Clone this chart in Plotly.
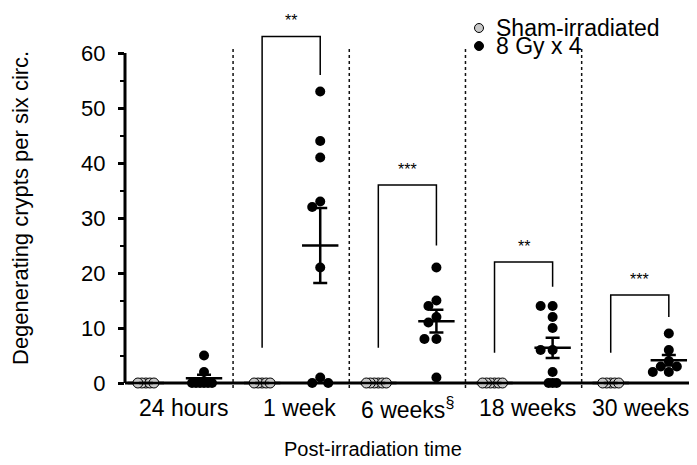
import numpy as np
import plotly.graph_objects as go

# ---------------- data ----------------
categories = ["24 hours", "1 week", "6 weeks<sup>§</sup>", "18 weeks", "30 weeks"]

sham_24h = [0, 0, 0, 0, 0]
sham_1wk = [0, 0, 0, 0, 0]
sham_6wk = [0, 0, 0, 0, 0, 0]
sham_18wk = [0, 0, 0, 0, 0, 0]
sham_30wk = [0, 0, 0, 0, 0]

irr_24h = [5, 2, 0, 0, 0, 0, 0, 0]
irr_1wk = [53, 44, 41, 33, 32, 21, 1, 0, 0]
irr_6wk = [21, 15, 14, 12, 11, 8, 8, 1]
irr_18wk = [14, 14, 12, 10, 6, 6, 2, 0, 0, 0]
irr_30wk = [9, 6, 4, 3, 3, 2, 2]

sig_labels = ["", "**", "***", "**", "***"]
bracket_top = [None, 63, 36, 22, 16]
bracket_left_end = [None, 6.4, 6.4, 5.5, 5.5]
bracket_right_end = [None, 56, 25, 17.5, 12]

y_ticks = [0, 10, 20, 30, 40, 50, 60]
y_minor = [5, 15, 25, 35, 45, 55]

legend_names = ["Sham-irradiated", "8 Gy x 4"]

sham_groups = [sham_24h, sham_1wk, sham_6wk, sham_18wk, sham_30wk]
irr_groups = [irr_24h, irr_1wk, irr_6wk, irr_18wk, irr_30wk]

# ---------------- layout geometry ----------------
# the page has an 8px body margin, so the figure is drawn 8px in from the corner
PAGE_OFF = 8
W, H = 697 - PAGE_OFF, 465 - PAGE_OFF
AX_LEFT_PAGE, AX_RIGHT_PAGE = 125, 695
ZERO_PAGE = 383
PLOT_BOTTOM_PAGE = 391
L = AX_LEFT_PAGE - PAGE_OFF
R = W - (AX_RIGHT_PAGE - PAGE_OFF)
T = 0
B = H - (PLOT_BOTTOM_PAGE - PAGE_OFF)
PW, PH = W - L - R, H - T - B
PX_PER_Y = 5.5
PX_PER_X = 116.2
y_range = [-(PLOT_BOTTOM_PAGE - ZERO_PAGE) / PX_PER_Y, (ZERO_PAGE - PAGE_OFF) / PX_PER_Y]
x_range = [-0.43, -0.43 + PW / PX_PER_X]
FONT = "Liberation Sans, Arial, sans-serif"
GREY = "#c8c8c8"
OFF = 0.25
MS = 10


def paper_x(px):
    return (px - PAGE_OFF - L) / PW


def paper_y(py):
    return (H - B - (py - PAGE_OFF)) / PH


def swarm(vals, diam=MS, step=4.0):
    """Greedy beeswarm offsets (in x data units)."""
    n = len(vals)
    order = sorted(range(n), key=lambda i: -vals[i])
    placed = []
    offs = [0.0] * n
    for i in order:
        y = vals[i] * PX_PER_Y
        k = 0
        while True:
            m = (k + 1) // 2
            c = (-1 if k % 2 == 1 else 1) * m * step
            ok = True
            for (pdx, py) in placed:
                dy = abs(y - py)
                dx = abs(c - pdx)
                if dy < 0.5:
                    sep = 4.0 if vals[i] == 0 else 0.95 * diam
                    if dx < sep:
                        ok = False
                        break
                elif dx * dx + dy * dy < (0.9 * diam) ** 2:
                    ok = False
                    break
            if ok:
                break
            k += 1
        placed.append((c, y))
        offs[i] = c / PX_PER_X
    return offs


fig = go.Figure()
shapes = []

# dashed dividers
for i in range(len(categories) - 1):
    shapes.append(dict(type="line", xref="x", yref="y", x0=i + 0.5, x1=i + 0.5,
                       y0=-0.9, y1=61, layer="below",
                       line=dict(color="#111111", width=1.5, dash="3px,3px")))
# axis lines
shapes.append(dict(type="line", xref="paper", yref="y", x0=0, x1=1, y0=0, y1=0,
                   layer="below", line=dict(color="black", width=3)))
shapes.append(dict(type="line", xref="paper", yref="y", x0=0, x1=0, y0=0, y1=60,
                   layer="below", line=dict(color="black", width=3)))

# points
for gi in range(len(categories)):
    s = sham_groups[gi]
    so = swarm(s)
    fig.add_trace(go.Scatter(
        x=[gi - OFF + o for o in so], y=s, mode="markers", cliponaxis=False,
        marker=dict(size=MS, color=GREY, line=dict(color="black", width=1)),
        showlegend=False, hoverinfo="y"))
    r = irr_groups[gi]
    ro = swarm(r)
    fig.add_trace(go.Scatter(
        x=[gi + OFF + o for o in ro], y=r, mode="markers", cliponaxis=False,
        marker=dict(size=MS, color="black", line=dict(color="black", width=0)),
        showlegend=False, hoverinfo="y"))

# mean +/- SEM
mx, my, me = [], [], []
for gi in range(len(categories)):
    for off, grp in ((-OFF, sham_groups[gi]), (OFF, irr_groups[gi])):
        a = np.asarray(grp, dtype=float)
        mx.append(gi + off)
        my.append(a.mean())
        me.append(a.std(ddof=1) / np.sqrt(len(a)))
fig.add_trace(go.Scatter(
    x=mx, y=my, mode="markers", cliponaxis=False,
    marker=dict(symbol="line-ew", size=26, color="black",
                line=dict(color="black", width=2.5)),
    error_y=dict(type="data", array=me, visible=True, color="black",
                 thickness=2.5, width=7),
    showlegend=False, hoverinfo="y"))

# significance brackets
for gi in range(len(categories)):
    if bracket_top[gi] is None:
        continue
    fig.add_trace(go.Scatter(
        x=[gi - OFF, gi - OFF, gi + OFF, gi + OFF],
        y=[bracket_left_end[gi], bracket_top[gi], bracket_top[gi], bracket_right_end[gi]],
        mode="lines", line=dict(color="black", width=1.5),
        showlegend=False, hoverinfo="skip"))

annotations = []
for gi in range(len(categories)):
    if sig_labels[gi]:
        annotations.append(dict(x=gi, y=bracket_top[gi], xref="x", yref="y",
                                text=sig_labels[gi], showarrow=False,
                                xanchor="center", yanchor="middle", yshift=16,
                                font=dict(family=FONT, size=16, color="black")))

# category labels
cat_center_px = [184, 299, 407, 527, 640]
for gi, c in enumerate(categories):
    annotations.append(dict(x=paper_x(cat_center_px[gi]), y=paper_y(408),
                            xref="paper", yref="paper",
                            text=c, showarrow=False,
                            xanchor="center", yanchor="middle",
                            font=dict(family=FONT, size=23, color="black")))

# axis titles
annotations.append(dict(x=paper_x(373), y=paper_y(449), xref="paper", yref="paper",
                        text="Post-irradiation time", showarrow=False,
                        xanchor="center", yanchor="middle",
                        font=dict(family=FONT, size=20, color="black")))
annotations.append(dict(x=paper_x(21), y=paper_y(208), xref="paper", yref="paper",
                        text="Degenerating crypts per six circ.", showarrow=False,
                        textangle=-90, xanchor="center", yanchor="middle",
                        font=dict(family=FONT, size=22, color="black")))

# legend
leg_y = [28, 46]
leg_fill = [GREY, "black"]
for k in range(2):
    shapes.append(dict(type="circle", xref="paper", yref="paper",
                       xsizemode="pixel", ysizemode="pixel",
                       xanchor=paper_x(479), yanchor=paper_y(leg_y[k]),
                       x0=-4.5, x1=4.5, y0=-4.5, y1=4.5,
                       fillcolor=leg_fill[k], line=dict(color="black", width=1)))
    annotations.append(dict(x=paper_x(494), y=paper_y(leg_y[k]), xref="paper", yref="paper",
                            text=legend_names[k], showarrow=False, xanchor="left",
                            yanchor="middle",
                            font=dict(family=FONT, size=23, color="black")))

fig.update_layout(
    width=W, height=H,
    margin=dict(l=L, r=R, t=T, b=B, pad=0, autoexpand=False),
    paper_bgcolor="white", plot_bgcolor="white",
    shapes=shapes, annotations=annotations, showlegend=False,
    xaxis=dict(range=x_range, showline=False, showgrid=False, zeroline=False,
               showticklabels=False, ticks=""),
    yaxis=dict(range=y_range, showline=False, showgrid=False, zeroline=False,
               tickmode="array", tickvals=y_ticks, ticktext=[str(v) for v in y_ticks],
               ticks="outside", ticklen=6, tickwidth=2.5, tickcolor="black",
               ticklabelstandoff=8,
               tickfont=dict(family=FONT, size=22, color="black"),
               minor=dict(tickmode="array", tickvals=y_minor, ticks="outside",
                          ticklen=4, tickwidth=2, tickcolor="black")),
)

fig.write_html("out.html")
